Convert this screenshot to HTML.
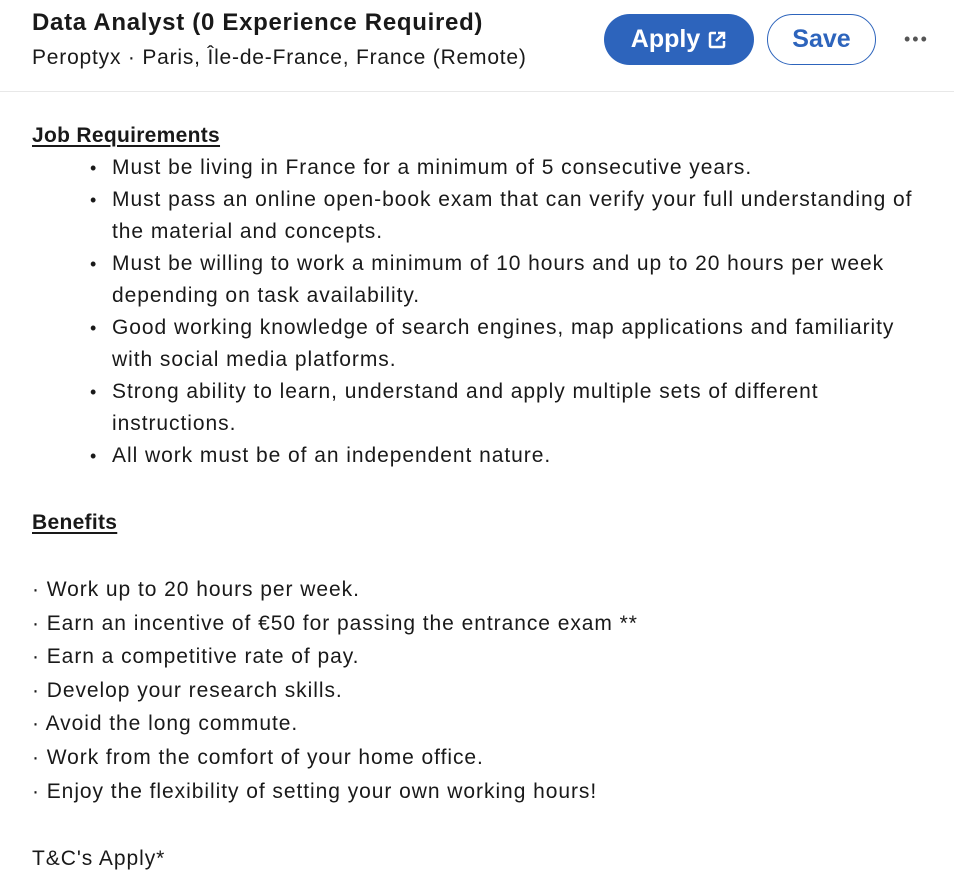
<!DOCTYPE html>
<html><head><meta charset="utf-8"><style>
html,body{margin:0;padding:0;background:#fff;}
body{width:954px;height:896px;position:relative;overflow:hidden;font-family:"Liberation Sans",Arial,sans-serif;color:rgba(0,0,0,.9);}
.t{position:absolute;white-space:nowrap;font-size:21px;line-height:24px;letter-spacing:0.95px;}
.b::before{content:"•";position:absolute;left:-22px;font-size:18px;}
u{text-decoration-thickness:2px;text-underline-offset:3px;}
.btn{position:absolute;box-sizing:border-box;border-radius:26px;font-weight:bold;font-size:25px;display:flex;align-items:center;justify-content:center;}
</style></head><body>
<div class="t" style="left:32px;top:9px;font-size:24px;line-height:28px;font-weight:bold;letter-spacing:0.7px;">Data Analyst (0 Experience Required)</div>
<div class="t" style="left:32px;top:46px;letter-spacing:0.8px;">Peroptyx · Paris, Île-de-France, France (Remote)</div>
<div class="btn" style="left:604px;top:14px;width:150px;height:51px;background:#2d64bc;color:#fff;">Apply&nbsp;<svg width="20" height="20" viewBox="0 0 20 20"><path d="M9 3H4a1 1 0 0 0-1 1v12a1 1 0 0 0 1 1h12a1 1 0 0 0 1-1v-5" fill="none" stroke="#fff" stroke-width="2.5"/><path d="M11 3h6v6M17 3l-8 8" fill="none" stroke="#fff" stroke-width="2.5"/></svg></div>
<div class="btn" style="left:767px;top:14px;width:109px;height:51px;border:1.5px solid #2d64bc;color:#2d64bc;">Save</div>
<div class="t" style="left:904px;top:27px;font-size:18px;letter-spacing:2px;color:#555;">•••</div>
<div style="position:absolute;left:0;top:91px;width:954px;height:1px;background:#e8e8e8;"></div>

<div class="t" style="left:32px;top:124px;font-weight:bold;letter-spacing:0.3px;"><u>Job Requirements</u></div>
<div class="t b" style="left:112px;top:156px;">Must be living in France for a minimum of 5 consecutive years.</div>
<div class="t b" style="left:112px;top:188px;">Must pass an online open-book exam that can verify your full understanding of</div>
<div class="t" style="left:112px;top:220px;">the material and concepts.</div>
<div class="t b" style="left:112px;top:252px;">Must be willing to work a minimum of 10 hours and up to 20 hours per week</div>
<div class="t" style="left:112px;top:284px;">depending on task availability.</div>
<div class="t b" style="left:112px;top:316px;">Good working knowledge of search engines, map applications and familiarity</div>
<div class="t" style="left:112px;top:348px;">with social media platforms.</div>
<div class="t b" style="left:112px;top:380px;">Strong ability to learn, understand and apply multiple sets of different</div>
<div class="t" style="left:112px;top:412px;">instructions.</div>
<div class="t b" style="left:112px;top:444px;">All work must be of an independent nature.</div>

<div class="t" style="left:32px;top:511px;font-weight:bold;letter-spacing:0.3px;"><u>Benefits</u></div>
<div class="t" style="left:32px;top:578px;">· Work up to 20 hours per week.</div>
<div class="t" style="left:32px;top:612px;">· Earn an incentive of €50 for passing the entrance exam **</div>
<div class="t" style="left:32px;top:645px;">· Earn a competitive rate of pay.</div>
<div class="t" style="left:32px;top:679px;">· Develop your research skills.</div>
<div class="t" style="left:32px;top:712px;">· Avoid the long commute.</div>
<div class="t" style="left:32px;top:746px;">· Work from the comfort of your home office.</div>
<div class="t" style="left:32px;top:780px;">· Enjoy the flexibility of setting your own working hours!</div>
<div class="t" style="left:32px;top:847px;">T&amp;C's Apply*</div>
</body></html>
